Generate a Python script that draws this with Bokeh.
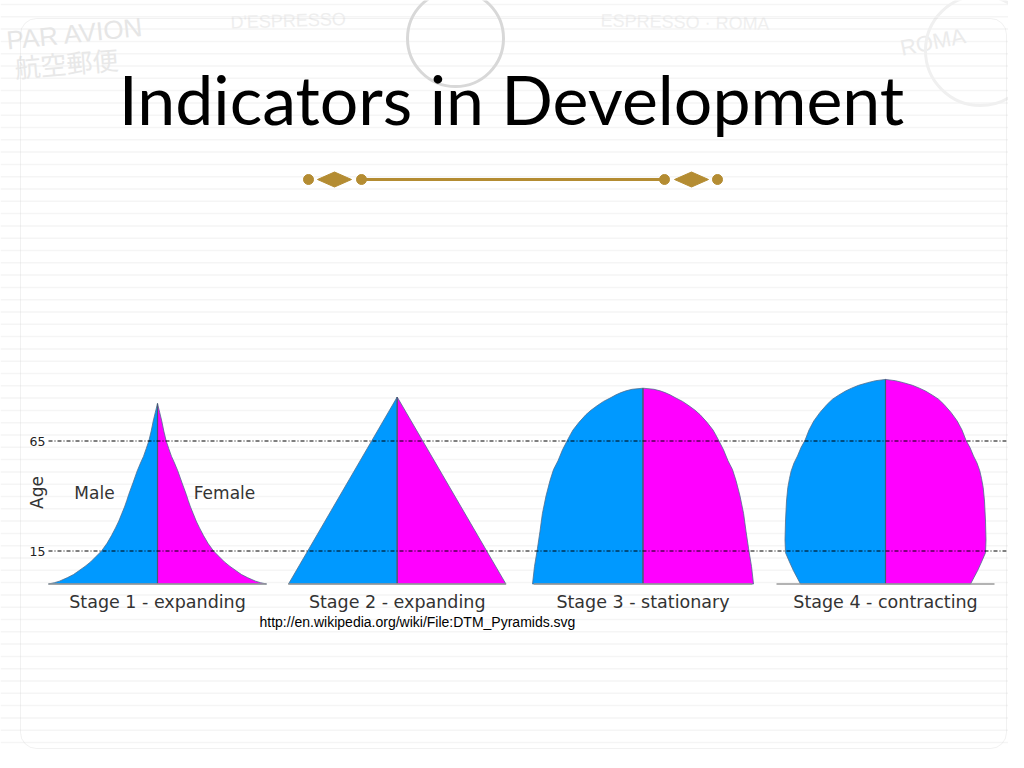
import math
from bokeh.plotting import figure
from bokeh.models import Range1d, BoxAnnotation
from bokeh.core.properties import value
from bokeh.embed import file_html
from bokeh.resources import INLINE

# ---------------- data ----------------
title_text = "Indicators in Development"
stage_labels = ["Stage 1 - expanding", "Stage 2 - expanding",
                "Stage 3 - stationary", "Stage 4 - contracting"]
sex_labels = ["Male", "Female"]
ref_ages = [15, 65]
ref_tick_labels = ["15", "65"]
axis_label = "Age"
source_note = "http://en.wikipedia.org/wiki/File:DTM_Pyramids.svg"

# half-width of each pyramid (population, drawing units) by age
s1_age = [0, 0.6, 1.3, 2.9, 4.3, 5.9, 8, 10, 12.5, 15, 18.5, 22, 25.5, 28.6, 32, 35, 38, 40.8,
          46, 51.4, 55, 58, 61.5, 65, 69.5, 74, 78, 82]
s1_half = [109, 103, 98, 90, 84, 79, 72.5, 67, 61.5, 56, 50.5, 46, 42, 38.7, 35.7, 33, 30.7, 28.7,
           24.5, 20.3, 17, 14, 11.3, 8.7, 6.3, 4.3, 2.2, 0]

s2_age = [0, 85]
s2_half = [108.7, 0]

s3_age = [0, 8, 16, 24, 32, 40, 47, 52, 56, 61, 65, 68, 70, 73.5, 77, 79, 81, 83, 84.5, 86,
          87, 87.8, 88.5, 89]
s3_half = [110.5, 108.5, 105.6, 103, 100.6, 97, 93, 89.5, 85, 80.5, 76, 72.5, 70, 64, 57, 52, 46,
           39.5, 33, 27, 22, 17, 11, 0]

s4_age = [0, 3, 6, 10, 14.2, 20, 28.6, 37.7, 43.8, 48, 51.4, 55, 58.2, 62, 65.3, 70, 74.1, 78,
          81.7, 84, 85.8, 87.7, 89, 90.3, 91.5, 92.4, 93]
s4_half = [85, 88.5, 92, 96, 100, 100.5, 100, 99, 97.7, 96, 94.3, 91.5, 88, 84.5, 80.5, 76.5,
           71.7, 65.5, 58.3, 53, 47, 40, 34, 27, 18, 10, 0]

profiles = [(s1_age, s1_half), (s2_age, s2_half), (s3_age, s3_half), (s4_age, s4_half)]

# ---------------- layout ----------------
W, H = 1008, 752
AGE0_PX, PX_PER_YEAR = 583.5, 2.2


def Y(py):
    """picture pixel row -> age units of the chart's y scale"""
    return (AGE0_PX - py) / PX_PER_YEAR


centers = [157, 396.7, 642.5, 885]
base_half = 109
male_color = "#0099ff"
female_color = "#ff00ff"
edge_color = "#4f6f8f"
gold = "#b48c32"
dv = value("DejaVu Sans")

p = figure(width=W, height=H, output_backend="svg", toolbar_location=None,
           x_range=Range1d(0, W), y_range=Range1d(Y(H), Y(0)),
           min_border=0, outline_line_color=None)
p.axis.visible = False
p.grid.visible = False
p.background_fill_color = "white"
p.border_fill_color = "white"

# faint paper stripes
stripe_rows = [4 + 12.3 * k for k in range(62)]
p.segment(x0=0, x1=W, y0=[Y(r) for r in stripe_rows], y1=[Y(r) for r in stripe_rows],
          line_color="#f5f5f5", line_width=1.5)

# faint postal stamps at top
p.text(x=[6], y=[Y(40)], text=["PAR AVION"], angle=0.1, text_font=value("Liberation Sans"),
       text_font_size="26px", text_color="#e6e6e6", text_baseline="middle")
p.text(x=[14], y=[Y(66)], text=["航空郵便"], angle=0.08, text_font=value("Noto Sans CJK JP"),
       text_font_size="26px", text_color="#e8e8e8", text_baseline="middle")
p.text(x=[230], y=[Y(22)], text=["D'ESPRESSO"], angle=0.03, text_font=value("Liberation Sans"),
       text_font_size="18px", text_color="#eeeeee", text_baseline="middle")
p.text(x=[600], y=[Y(20)], text=["ESPRESSO · ROMA"], angle=-0.02, text_font=value("Liberation Sans"),
       text_font_size="18px", text_color="#efefef", text_baseline="middle")
p.text(x=[900], y=[Y(48)], text=["ROMA"], angle=0.2, text_font=value("Liberation Sans"),
       text_font_size="22px", text_color="#ebebeb", text_baseline="middle")
p.circle(x=[455], y=[Y(38)], radius=48, fill_alpha=0, line_color="#d8d8d8", line_width=3)
p.circle(x=[980], y=[Y(50)], radius=55, fill_alpha=0, line_color="#f0f0f0", line_width=3)

# slide frame
p.add_layout(BoxAnnotation(left=20, right=1006, top=Y(18), bottom=Y(748),
                           fill_alpha=0, line_color="#d2d2d2", line_width=1,
                           border_radius=16))

# title
p.text(x=[511], y=[Y(98)], text=[title_text], text_font=value("Lato"),
       text_font_size="68px", text_color="black", text_align="center",
       text_baseline="middle")

# ornament
orn_y = Y(179)
p.segment(x0=[361], x1=[664], y0=[orn_y], y1=[orn_y], line_color=gold, line_width=3)
p.scatter(x=[308, 361, 664, 717], y=[orn_y] * 4, size=10, marker="circle",
          fill_color=gold, line_color=gold)
dh = 7.5 / PX_PER_YEAR
for cx in (334, 691):
    p.patch(x=[cx - 17, cx, cx + 17, cx], y=[orn_y, orn_y + dh, orn_y, orn_y - dh],
            fill_color=gold, line_color=gold)

# pyramids
for (ages, half), cx in zip(profiles, centers):
    top = ages[-1]
    p.patch(x=[cx - h for h in half] + [cx], y=list(ages) + [0],
            fill_color=male_color, line_color=edge_color, line_width=0.8)
    p.patch(x=[cx + h for h in half] + [cx], y=list(ages) + [0],
            fill_color=female_color, line_color=edge_color, line_width=0.8)
    p.segment(x0=[cx], x1=[cx], y0=[0], y1=[top], line_color="#4a5870", line_width=1.2)
    p.segment(x0=[cx - base_half], x1=[cx + base_half], y0=[0], y1=[0],
              line_color="#9a9a9a", line_width=1.5)

# age reference lines
p.segment(x0=48, x1=1008, y0=ref_ages, y1=ref_ages, line_color="black",
          line_width=1, line_dash="4 2 1 2")
p.text(x=[45] * len(ref_ages), y=ref_ages, text=ref_tick_labels, text_font=dv,
       text_font_size="12.5px", text_color="#222222", text_align="right",
       text_baseline="middle")
p.text(x=[36], y=[Y(492)], text=[axis_label], angle=math.pi / 2, text_font=dv,
       text_font_size="17px", text_color="#333333", text_align="center",
       text_baseline="middle")

p.text(x=[94, 224], y=[Y(492)] * 2, text=sex_labels, text_font=dv,
       text_font_size="17px", text_color="#333333", text_align="center",
       text_baseline="middle")

p.text(x=centers, y=[Y(601)] * 4, text=stage_labels, text_font=dv,
       text_font_size="17.5px", text_color="#333333", text_align="center",
       text_baseline="middle")

p.text(x=[259], y=[Y(621)], text=[source_note], text_font=value("Liberation Sans"),
       text_font_size="14px", text_color="black", text_align="left",
       text_baseline="middle")

open("out.html", "w").write(file_html(p, INLINE))
